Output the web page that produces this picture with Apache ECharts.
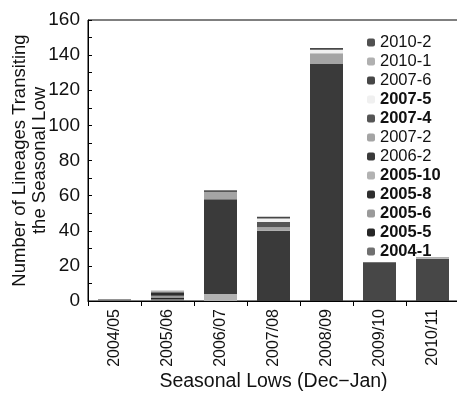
<!DOCTYPE html>
<html>
<head>
<meta charset="utf-8">
<script src="https://cdn.jsdelivr.net/npm/echarts@6/dist/echarts.min.js"></script>
<style>
html,body{margin:0;padding:0;background:#fff;}
#c{width:457px;height:394px;}
</style>
</head>
<body>
<div id="c"></div>
<script>
const categories = ['2004/05','2005/06','2006/07','2007/08','2008/09','2009/10','2010/11'];
const yTicks = [0,20,40,60,80,100,120,140,160];

const s2004_1  = [1, 1, 0, 0, 0, 0, 0];
const s2005_5  = [0, 1, 0, 0, 0, 0, 0];
const s2005_6  = [0, 1, 0, 0, 0, 0, 0];
const s2005_8  = [0, 2, 0, 0, 0, 0, 0];
const s2005_10 = [0, 1, 4, 0, 0, 0, 0];
const s2006_2  = [0, 0, 54, 40, 135, 0, 0];
const s2007_2  = [0, 0, 4, 2, 6, 0, 0];
const s2007_4  = [0, 0, 1, 3, 0, 0, 0];
const s2007_5  = [0, 0, 0, 2, 2, 0, 0];
const s2007_6  = [0, 0, 0, 1, 1, 22, 24];
const s2010_1  = [0, 0, 0, 0, 0, 0, 1];
const s2010_2  = [0, 0, 0, 0, 0, 0, 0];

const seriesDefs = [
  ['2004-1', s2004_1, '#707070', true],
  ['2005-5', s2005_5, '#262626', true],
  ['2005-6', s2005_6, '#9a9a9a', true],
  ['2005-8', s2005_8, '#2e2e2e', true],
  ['2005-10', s2005_10, '#b2b2b2', true],
  ['2006-2', s2006_2, '#3a3a3a', false],
  ['2007-2', s2007_2, '#a4a4a4', false],
  ['2007-4', s2007_4, '#555555', true],
  ['2007-5', s2007_5, '#f0f0f0', true],
  ['2007-6', s2007_6, '#474747', false],
  ['2010-1', s2010_1, '#b0b0b0', false],
  ['2010-2', s2010_2, '#505050', false]
];

const chart = echarts.init(document.getElementById('c'), null, {renderer:'canvas'});
const FONT = 'Liberation Sans, Arial, sans-serif';

const series = seriesDefs.map(d => ({
  name: d[0],
  type: 'bar',
  stack: 'total',
  barWidth: 33,
  data: d[1],
  itemStyle: { color: d[2] },
  emphasis: { disabled: true }
}));

const legendData = seriesDefs.slice().reverse().map(d => ({
  name: d[0],
  textStyle: { fontWeight: d[3] ? 'bold' : 'normal' }
}));

chart.setOption({
  animation: false,
  backgroundColor: '#fff',
  grid: { left: 88, top: 20, width: 371, height: 281, show: true, borderColor: '#000', borderWidth: 1, containLabel: false, outerBoundsMode: 'none' },
  legend: {
    orient: 'vertical',
    left: 362, top: 29,
    padding: 5,
    itemWidth: 8, itemHeight: 8, itemGap: 2,
    data: legendData,
    textStyle: { fontFamily: FONT, fontSize: 16.5, color: '#111', lineHeight: 16 }
  },
  xAxis: {
    type: 'category',
    data: categories,
    name: 'Seasonal Lows (Dec\u2212Jan)',
    nameLocation: 'middle',
    nameGap: 71,
    nameMoveOverlap: false,
    nameTextStyle: { fontFamily: FONT, fontSize: 19.5, color: '#111' },
    axisLine: { lineStyle: { color: '#000', width: 1 } },
    axisTick: { show: true, length: 5, lineStyle: { color: '#000' } },
    axisLabel: { rotate: 90, margin: 8, fontFamily: FONT, fontSize: 16, color: '#111' }
  },
  yAxis: {
    type: 'value',
    min: yTicks[0], max: yTicks[yTicks.length-1], interval: 20,
    name: 'Number of Lineages Transiting\nthe Seasonal Low',
    nameLocation: 'middle',
    nameGap: 38,
    nameMoveOverlap: false,
    nameTextStyle: { fontFamily: FONT, fontSize: 18.5, color: '#111', lineHeight: 20 },
    axisLine: { show: true, lineStyle: { color: '#000', width: 1 } },
    axisTick: { show: true, inside: true, length: 4, lineStyle: { color: '#000' } },
    minorTick: { show: true, splitNumber: 2, length: 4, lineStyle: { color: '#000' } },
    splitLine: { show: false },
    axisLabel: { margin: 8, fontFamily: FONT, fontSize: 19, color: '#111' }
  },
  series: series
});
</script>
</body>
</html>
